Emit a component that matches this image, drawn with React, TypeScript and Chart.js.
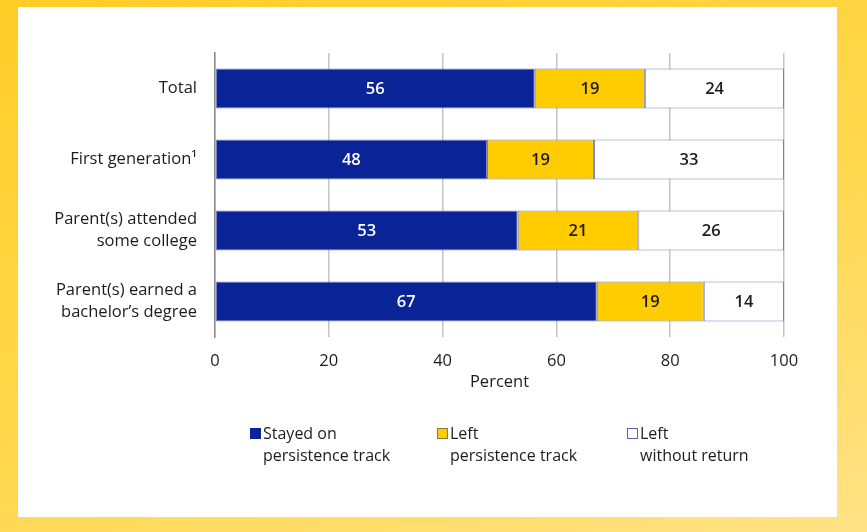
import React, { useEffect, useRef } from 'react';
import { Chart, registerables } from 'chart.js';

Chart.register(...registerables);

const categories: string[][] = [
  ['Total'],
  ['First generation¹'],
  ['Parent(s) attended', 'some college'],
  ['Parent(s) earned a', 'bachelor’s degree'],
];
const stayedOnTrack = [56.2, 47.8, 53.2, 67.1];
const leftTrack = [19.4, 18.8, 21.2, 18.8];
const leftWithoutReturn = [24.4, 33.4, 25.6, 14.1];
const seriesNames: string[][] = [
  ['Stayed on', 'persistence track'],
  ['Left', 'persistence track'],
  ['Left', 'without return'],
];
const xTickValues = [0, 20, 40, 60, 80, 100];
const xAxisTitle = 'Percent';

const FONT = '"Open Sans", "Noto Sans", sans-serif';
const BLUE = '#0A2396';
const YELLOW = '#FFCC00';
const WHITE = '#FFFFFF';
const EDGE = '#7381C4';
const TEXT = '#1E1B1C';

const valueLabels = {
  id: 'valueLabels',
  afterDatasetsDraw(chart: any) {
    const ctx = chart.ctx;
    ctx.save();
    ctx.font = `600 16.5px ${FONT}`;
    ctx.textAlign = 'center';
    ctx.textBaseline = 'middle';
    chart.data.datasets.forEach((ds: any, di: number) => {
      const meta = chart.getDatasetMeta(di);
      meta.data.forEach((el: any, i: number) => {
        const v = ds.data[i];
        ctx.fillStyle = di === 0 ? '#FFFFFF' : TEXT;
        ctx.fillText(String(Math.round(v)), (el.x + el.base) / 2, el.y + 1);
      });
    });
    ctx.restore();
  },
};

const customLegend = {
  id: 'customLegend',
  afterDraw(chart: any) {
    const ctx = chart.ctx;
    const area = chart.chartArea;
    const starts = [35, 222, 412];
    const boxTop = area.bottom + 91;
    ctx.save();
    ctx.font = `16px ${FONT}`;
    ctx.textAlign = 'left';
    ctx.textBaseline = 'middle';
    chart.data.datasets.forEach((ds: any, di: number) => {
      const x = area.left + starts[di];
      ctx.fillStyle = ds.backgroundColor;
      ctx.fillRect(x, boxTop, 11, 11);
      ctx.lineWidth = 1;
      ctx.strokeStyle = di === 0 ? BLUE : di === 1 ? '#8A7A40' : '#5563B0';
      ctx.strokeRect(x + 0.5, boxTop + 0.5, 10, 10);
      ctx.fillStyle = TEXT;
      const lines: string[] = ds.legendLines;
      lines.forEach((line, li) => {
        ctx.fillText(line, x + 13, boxTop + 6 + li * 22);
      });
    });
    ctx.restore();
  },
};

export default function App() {
  const canvasRef = useRef<HTMLCanvasElement | null>(null);

  useEffect(() => {
    const prevMargin = document.body.style.margin;
    document.body.style.margin = '0';
    const canvas = canvasRef.current;
    if (!canvas) return;
    const colors = [BLUE, YELLOW, WHITE];
    const values = [stayedOnTrack, leftTrack, leftWithoutReturn];
    const chart = new Chart(canvas, {
      type: 'bar',
      data: {
        labels: categories as any,
        datasets: values.map((vals, i) => ({
          label: seriesNames[i].join(' '),
          legendLines: seriesNames[i],
          data: vals,
          backgroundColor: colors[i],
          borderColor: EDGE,
          borderWidth: 1,
          borderSkipped: false,
          barPercentage: 0.563,
          categoryPercentage: 1,
        })) as any,
      },
      options: {
        indexAxis: 'y',
        animation: false,
        responsive: false,
        maintainAspectRatio: false,
        layout: { padding: { top: 46, right: 53, bottom: 120, left: 0 } },
        plugins: {
          legend: { display: false },
          tooltip: { enabled: false },
        },
        scales: {
          x: {
            stacked: true,
            min: 0,
            max: 100,
            afterBuildTicks: (scale: any) => {
              scale.ticks = xTickValues.map((v) => ({ value: v }));
            },
            afterFit: (scale: any) => {
              scale.height = 60;
            },
            grid: {
              color: '#C4C4C4',
              lineWidth: 1.5,
              drawTicks: false,
            },
            border: { display: false },
            ticks: {
              padding: 14,
              color: TEXT,
              font: { family: FONT, size: 16.5 },
              maxRotation: 0,
            },
            title: {
              display: true,
              text: xAxisTitle,
              color: TEXT,
              font: { family: FONT, size: 16.5 },
              padding: { top: 0, bottom: 5 },
            },
          },
          y: {
            stacked: true,
            afterFit: (scale: any) => {
              scale.width = 197;
            },
            grid: { display: false, drawTicks: false },
            border: { display: true, color: '#8C8C8C', width: 1.5 },
            ticks: {
              padding: 18,
              color: TEXT,
              font: { family: FONT, size: 16.5, lineHeight: 1.35 },
            },
          },
        },
      } as any,
      plugins: [valueLabels, customLegend],
    });
    return () => {
      chart.destroy();
      document.body.style.margin = prevMargin;
    };
  }, []);

  return (
    <div
      style={{
        position: 'absolute',
        left: 0,
        top: 0,
        width: 867,
        height: 532,
        background: 'linear-gradient(160deg, #FFCD28 0%, #FFD84E 55%, #FFE285 100%)',
        overflow: 'hidden',
      }}
    >
      <div
        style={{
          position: 'absolute',
          left: 18,
          top: 7,
          width: 819,
          height: 510,
          background: '#FFFFFF',
        }}
      >
        <canvas ref={canvasRef} width={819} height={510} style={{ display: 'block' }} />
      </div>
    </div>
  );
}
